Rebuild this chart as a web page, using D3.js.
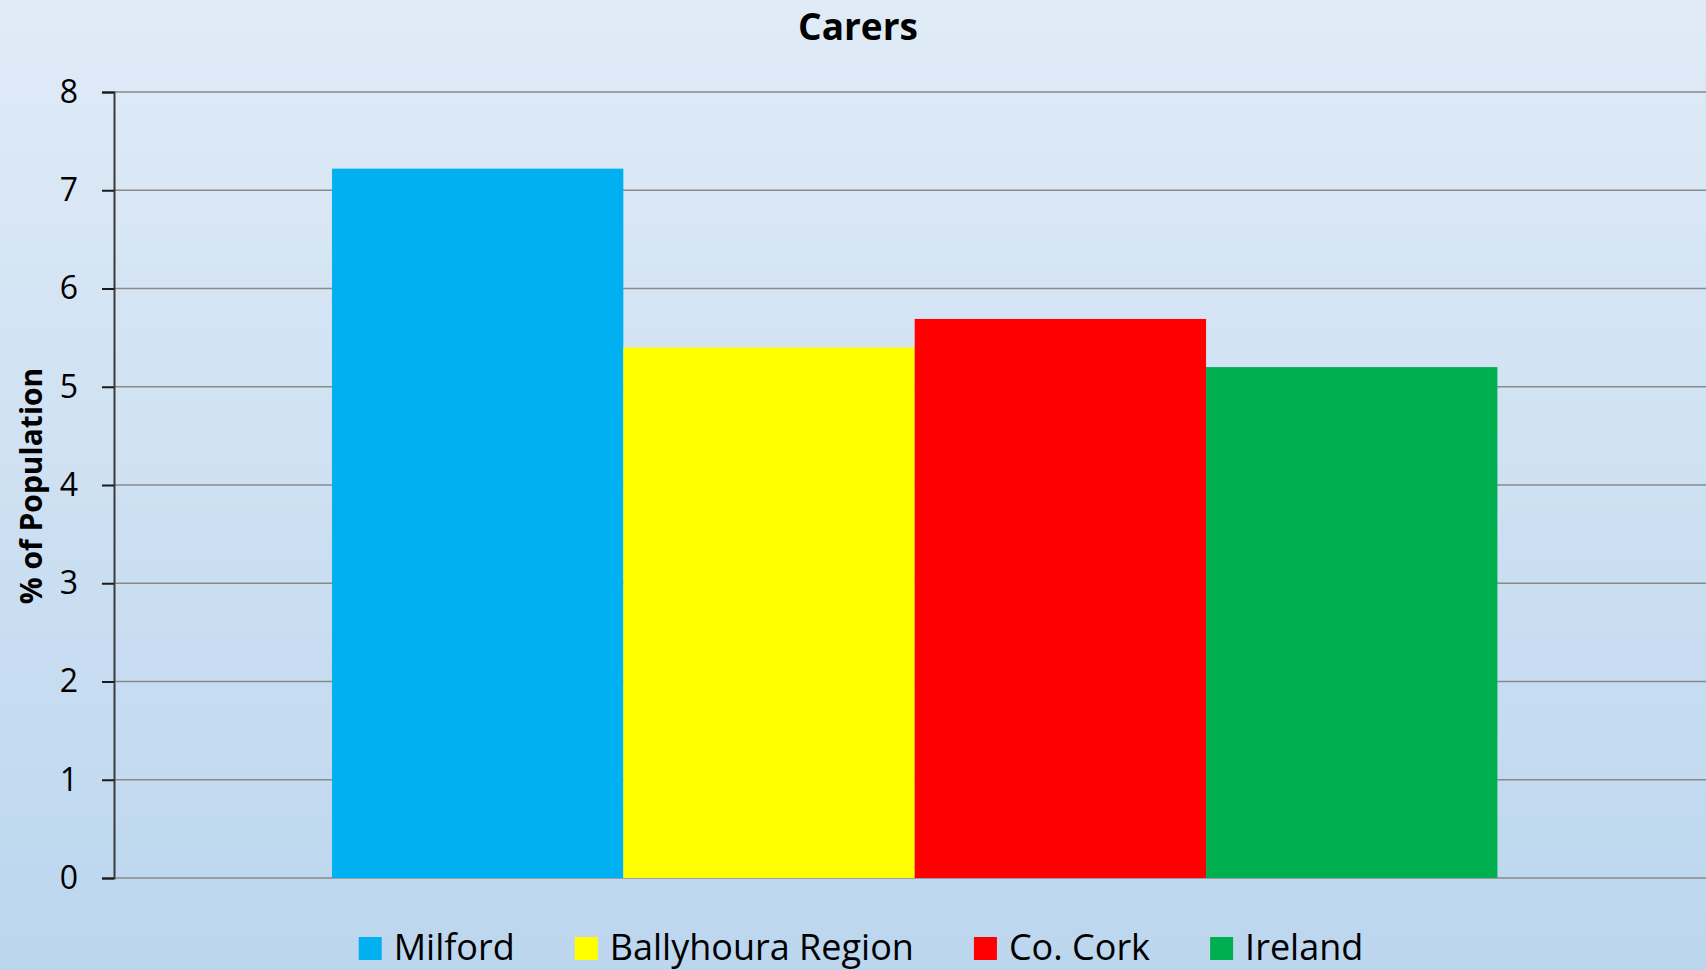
<!DOCTYPE html>
<html>
<head>
<meta charset="utf-8">
<script src="https://cdn.jsdelivr.net/npm/d3@7"></script>
<style>
  html, body { margin: 0; padding: 0; }
  body { width: 1706px; height: 970px; overflow: hidden; }
  svg { display: block; font-family: "Open Sans", sans-serif; }
</style>
</head>
<body>
<svg id="chart"></svg>
<script>
const width = 1706;
const height = 970;
const margin = { top: 92, right: 0, bottom: 92, left: 114 };

// Data
const series = ["Milford", "Ballyhoura Region", "Co. Cork", "Ireland"];
const values = [7.22, 5.40, 5.69, 5.20];
const colors = ["#00b0f0", "#ffff00", "#ff0000", "#00b050"];
const yTicks = [0, 1, 2, 3, 4, 5, 6, 7, 8];

const svg = d3.select("#chart")
  .attr("width", width)
  .attr("height", height);

// Background gradient
const grad = svg.append("defs").append("linearGradient")
  .attr("id", "bg")
  .attr("x1", 0).attr("y1", 0).attr("x2", 0).attr("y2", 1);
grad.append("stop").attr("offset", "0%").attr("stop-color", "#e0ebf7");
grad.append("stop").attr("offset", "100%").attr("stop-color", "#bcd6ee");

svg.append("rect")
  .attr("width", width)
  .attr("height", height)
  .attr("fill", "url(#bg)");

// Scales
const yScale = d3.scaleLinear()
  .domain([0, 8])
  .range([height - margin.bottom, margin.top]);

const groupScale = d3.scaleBand()
  .domain(["Carers"])
  .range([margin.left, width - margin.right])
  .paddingOuter(0.183)
  .align(0.511);

const xScale = d3.scaleBand()
  .domain(series)
  .range([0, groupScale.bandwidth()]);

// Gridlines
svg.append("g")
  .selectAll("line")
  .data(yTicks)
  .join("line")
  .attr("x1", margin.left)
  .attr("x2", width - margin.right)
  .attr("y1", d => yScale(d))
  .attr("y2", d => yScale(d))
  .attr("stroke", "#8a8a8a")
  .attr("stroke-width", 1.5);

// Bars
svg.append("g")
  .attr("transform", `translate(${groupScale("Carers")}, 0)`)
  .selectAll("rect")
  .data(series)
  .join("rect")
  .attr("x", d => xScale(d))
  .attr("y", (d, i) => yScale(values[i]))
  .attr("width", xScale.bandwidth())
  .attr("height", (d, i) => yScale(0) - yScale(values[i]))
  .attr("fill", (d, i) => colors[i]);

// Y Axis
const yAxis = d3.axisLeft(yScale).tickValues(yTicks).tickSize(12).tickPadding(24);
const yAxisG = svg.append("g")
  .attr("transform", `translate(${margin.left}, 0)`)
  .call(yAxis);
yAxisG.select(".domain").attr("stroke", "#3a3a3a").attr("stroke-width", 2);
yAxisG.selectAll(".tick line").attr("stroke", "#1a1a1a").attr("stroke-width", 2);
yAxisG.selectAll(".tick text")
  .attr("font-family", "Open Sans")
  .attr("font-size", 32)
  .attr("fill", "#000");

// Title
svg.append("text")
  .attr("x", 858)
  .attr("y", 40)
  .attr("text-anchor", "middle")
  .attr("font-size", 37)
  .attr("font-weight", "bold")
  .text("Carers");

// Y label
svg.append("text")
  .attr("transform", "translate(42, 486) rotate(-90)")
  .attr("text-anchor", "middle")
  .attr("font-size", 30)
  .attr("font-weight", "bold")
  .text("% of Population");

// Legend
const legend = svg.append("g").attr("id", "legend");
const items = legend.selectAll("g")
  .data(series)
  .join("g");
items.append("rect")
  .attr("width", 23)
  .attr("height", 23)
  .attr("y", 937)
  .attr("fill", (d, i) => colors[i]);
items.append("text")
  .attr("x", 35)
  .attr("y", 960)
  .attr("font-size", 36)
  .text(d => d);

let widths = [];
items.each(function() { widths.push(this.getBBox().width); });
const gap = 60;
const total = d3.sum(widths) + gap * (widths.length - 1);
let xPos = 861 - total / 2;
items.attr("transform", (d, i) => {
  const t = `translate(${xPos}, 0)`;
  xPos += widths[i] + gap;
  return t;
});
</script>
</body>
</html>
